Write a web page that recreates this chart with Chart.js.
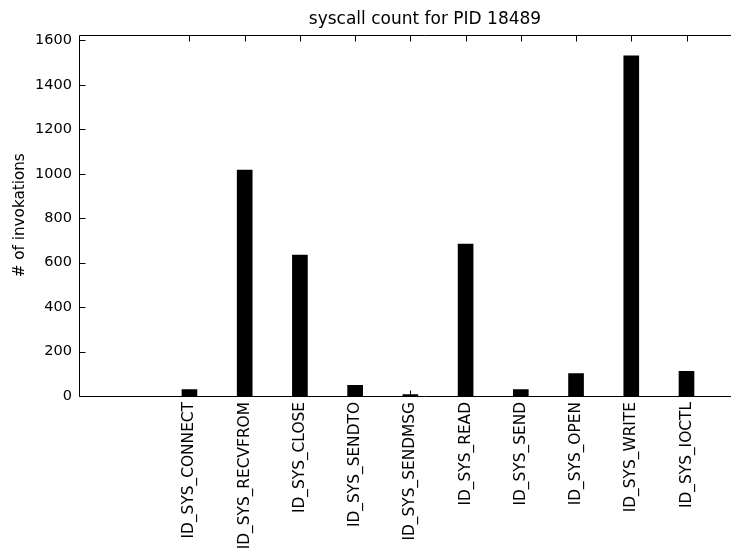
<!DOCTYPE html>
<html>
<head>
<meta charset="utf-8">
<script src="https://cdn.jsdelivr.net/npm/chart.js@4.4.1/dist/chart.umd.min.js"></script>
<style>
  html, body { margin: 0; padding: 0; background: #fff; overflow: hidden; width: 731px; height: 549px; }
  #wrap { width: 780px; height: 549px; }
</style>
</head>
<body>
<div id="wrap"><canvas id="c" width="780" height="549"></canvas></div>
<script>
const categories = ['ID_SYS_CONNECT', 'ID_SYS_RECVFROM', 'ID_SYS_CLOSE', 'ID_SYS_SENDTO', 'ID_SYS_SENDMSG',
                    'ID_SYS_READ', 'ID_SYS_SEND', 'ID_SYS_OPEN', 'ID_SYS_WRITE', 'ID_SYS_IOCTL'];
const counts = [29, 1017, 634, 48, 6, 684, 29, 101, 1531, 111];
const yTicks = [0, 200, 400, 600, 800, 1000, 1200, 1400, 1600];
const titleText = 'syscall count for PID 18489';
const yTitle = '# of invokations';

const FONT = 'DejaVu Sans';

const frameTicks = {
  id: 'frameTicks',
  afterDatasetsDraw(chart) {
    const ctx = chart.ctx;
    const a = chart.chartArea;
    const xs = chart.scales.x, ys = chart.scales.y;
    ctx.save();
    ctx.strokeStyle = '#000';
    ctx.lineWidth = 1;
    ctx.beginPath();
    const L = Math.round(a.left) + 0.5, R = Math.round(a.right) + 0.5;
    const T = Math.round(a.top) + 0.5, B = Math.round(a.bottom) + 0.5;
    ctx.moveTo(L, T); ctx.lineTo(R, T); ctx.lineTo(R, B); ctx.lineTo(L, B); ctx.closePath();
    const tl = 6;
    yTicks.forEach(v => {
      const y = Math.round(ys.getPixelForValue(v)) + 0.5;
      ctx.moveTo(L, y); ctx.lineTo(L + tl, y);
      ctx.moveTo(R, y); ctx.lineTo(R - tl, y);
    });
    categories.forEach((c, i) => {
      const x = Math.round(xs.getPixelForValue(i)) + 0.5;
      ctx.moveTo(x, T); ctx.lineTo(x, T + tl);
      ctx.moveTo(x, B); ctx.lineTo(x, B - tl);
    });
    ctx.stroke();
    ctx.restore();
  }
};

new Chart(document.getElementById('c'), {
  type: 'bar',
  data: {
    datasets: [{
      data: counts.map((v, i) => ({ x: i, y: v })),
      backgroundColor: '#000',
      borderWidth: 0,
      barThickness: 15
    }]
  },
  options: {
    responsive: false,
    animation: false,
    devicePixelRatio: 1,
    layout: { padding: { left: 0, right: 9, top: 0, bottom: 0 } },
    plugins: {
      legend: { display: false },
      tooltip: { enabled: false },
      title: {
        display: true,
        text: titleText,
        fullSize: false,
        color: '#000',
        font: { family: FONT, size: 17, weight: 'normal', lineHeight: 1.2 },
        padding: { top: 9, bottom: 5.1 }
      }
    },
    scales: {
      x: {
        type: 'linear',
        min: -2,
        max: 10.53,
        offset: false,
        grid: { display: false, drawTicks: false, offset: false },
        border: { display: false },
        afterBuildTicks(scale) { scale.ticks = categories.map((c, i) => ({ value: i })); },
        afterFit(scale) { scale.height = 153; scale.paddingLeft = 0; scale.paddingRight = 0; },
        ticks: {
          autoSkip: false,
          maxRotation: 90,
          minRotation: 90,
          padding: 6,
          color: '#000',
          font: { family: FONT, size: 15.4 },
          callback: (v) => categories[v] !== undefined ? categories[v] : ''
        }
      },
      y: {
        type: 'linear',
        min: 0,
        max: 1627,
        grid: { display: false, drawTicks: false },
        border: { display: false },
        afterBuildTicks(scale) { scale.ticks = yTicks.map(v => ({ value: v })); },
        afterFit(scale) { scale.width = 79; scale.paddingTop = 0; scale.paddingBottom = 0; },
        ticks: {
          padding: 7,
          color: '#000',
          font: { family: FONT, size: 14.5 },
          callback: (v) => String(v)
        },
        title: {
          display: true,
          text: yTitle,
          color: '#000',
          font: { family: FONT, size: 15.2 },
          padding: { top: 11, bottom: 0 }
        }
      }
    }
  },
  plugins: [frameTicks]
});
</script>
</body>
</html>
